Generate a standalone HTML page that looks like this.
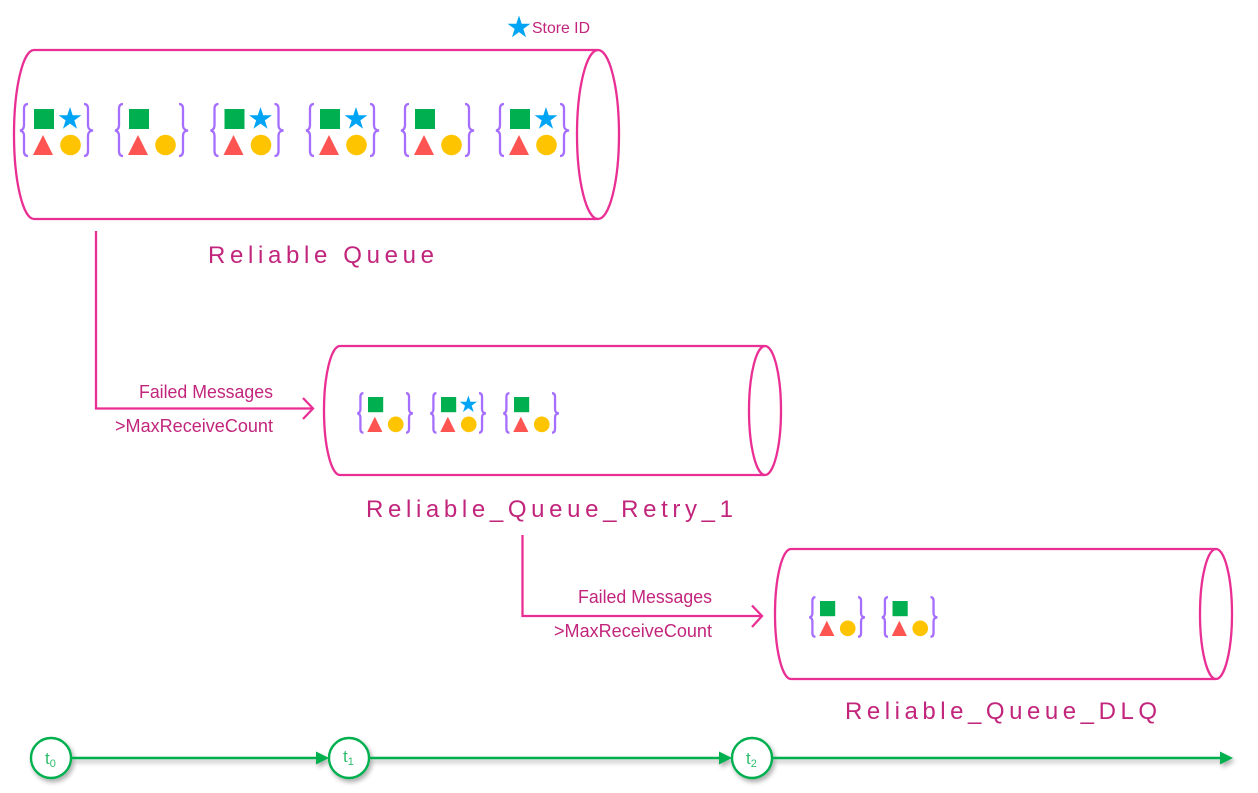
<!DOCTYPE html>
<html>
<head>
<meta charset="utf-8">
<style>
html,body{margin:0;padding:0;background:#fff;width:1258px;height:793px;overflow:hidden}
svg{display:block}
text{font-family:"Liberation Sans",sans-serif;fill:#c2257c}
.pk{fill:none;stroke:#ea2f94;stroke-width:2.3}
.br{fill:none;stroke:#a56eff;stroke-width:2.3;vector-effect:non-scaling-stroke}
.t{font-size:17px}
</style>
</head>
<body>
<svg width="1258" height="793" viewBox="0 0 1258 793" xmlns="http://www.w3.org/2000/svg">
<defs>
  <path id="star" fill="#00a4f5" d="M0,-12 L2.7,-3.72 L11.41,-3.71 L4.37,1.42 L7.05,9.71 L0,4.6 L-7.05,9.71 L-4.37,1.42 L-11.41,-3.71 L-2.7,-3.72 Z"/>
  <g id="base">
    <path class="br" d="M-6,-5 C-9,-5 -10,-3 -10,0 L-10,16 C-10,19 -11,21 -14,21.5 C-11,22 -10,24 -10,27 L-10,42 C-10,45 -9,47 -6,47"/>
    <path class="br" d="M50,-5 C53,-5 54,-3 54,0 L54,16 C54,19 55,21 59,21.5 C55,22 54,24 54,27 L54,42 C54,45 53,47 50,47"/>
    <rect x="0" y="0" width="20" height="20" fill="#00b050"/>
    <polygon points="-1,46 19,46 9,26" fill="#ff5552"/>
    <circle cx="36.5" cy="36" r="10.3" fill="#ffc400"/>
  </g>
  <g id="full">
    <use href="#base"/>
    <use href="#star" x="36" y="10"/>
  </g>
  <filter id="sh" x="-5%" y="-100%" width="110%" height="300%">
    <feDropShadow dx="2" dy="3" stdDeviation="2.5" flood-color="#000" flood-opacity="0.32"/>
  </filter>
</defs>

<!-- Cylinder 1 -->
<path class="pk" d="M598,50 L34,50 A20,84.5 0 0 0 34,219 L598,219"/>
<ellipse class="pk" cx="598" cy="134.5" rx="21" ry="84.5"/>
<use href="#full" x="34" y="109"/>
<use href="#base" x="129" y="109"/>
<use href="#full" x="224.5" y="109"/>
<use href="#full" x="320" y="109"/>
<use href="#base" x="415" y="109"/>
<use href="#full" x="510" y="109"/>

<use href="#star" x="519" y="27.5"/>
<text x="532" y="33" font-size="16" textLength="58" lengthAdjust="spacingAndGlyphs">Store ID</text>
<text x="208" y="263" font-size="24" textLength="226" lengthAdjust="spacing">Reliable Queue</text>

<!-- Connector 1 -->
<path class="pk" d="M96,231 L96,408.5 L312,408.5"/>
<path class="pk" d="M303,398 L313,408.5 L303,419"/>
<text x="139" y="398" font-size="18" textLength="134" lengthAdjust="spacingAndGlyphs">Failed Messages</text>
<text x="115" y="432" font-size="18" textLength="158" lengthAdjust="spacingAndGlyphs">&gt;MaxReceiveCount</text>

<!-- Cylinder 2 -->
<path class="pk" d="M765,346 L340,346 A16,64.5 0 0 0 340,475 L765,475"/>
<ellipse class="pk" cx="765" cy="410.5" rx="16" ry="64.5"/>
<g transform="translate(368,397) scale(.76)"><use href="#base"/></g>
<g transform="translate(441,397) scale(.76)"><use href="#full"/></g>
<g transform="translate(514,397) scale(.76)"><use href="#base"/></g>
<text x="366" y="517" font-size="24" textLength="367" lengthAdjust="spacing">Reliable_Queue_Retry_1</text>

<!-- Connector 2 -->
<path class="pk" d="M522.5,535 L522.5,616 L761,616"/>
<path class="pk" d="M752,605.5 L762,616 L752,627"/>
<text x="578" y="603" font-size="18" textLength="134" lengthAdjust="spacingAndGlyphs">Failed Messages</text>
<text x="554" y="637" font-size="18" textLength="158" lengthAdjust="spacingAndGlyphs">&gt;MaxReceiveCount</text>

<!-- Cylinder 3 -->
<path class="pk" d="M1216,549 L791,549 A16,65 0 0 0 791,679 L1216,679"/>
<ellipse class="pk" cx="1216" cy="614" rx="16" ry="65"/>
<g transform="translate(820,601) scale(.76)"><use href="#base"/></g>
<g transform="translate(892.5,601) scale(.76)"><use href="#base"/></g>
<text x="845" y="719" font-size="24" textLength="312" lengthAdjust="spacing">Reliable_Queue_DLQ</text>

<!-- Timeline -->
<g filter="url(#sh)">
  <path d="M71,758 L318,758 M369,758 L721,758 M772,758 L1222,758" stroke="#00b050" stroke-width="2.4" fill="none"/>
  <polygon points="316,751.5 329,758 316,764.5" fill="#00b050"/>
  <polygon points="719,751.5 732,758 719,764.5" fill="#00b050"/>
  <polygon points="1220,751.5 1233,758 1220,764.5" fill="#00b050"/>
  <circle cx="51" cy="758" r="20" fill="#fff" stroke="#00b050" stroke-width="2.4"/>
  <circle cx="349" cy="758" r="20" fill="#fff" stroke="#00b050" stroke-width="2.4"/>
  <circle cx="752" cy="758" r="20" fill="#fff" stroke="#00b050" stroke-width="2.4"/>
</g>
<text class="t" x="45" y="764" style="fill:#2fbd6c">t<tspan font-size="11" dy="3">0</tspan></text>
<text class="t" x="343" y="762" style="fill:#2fbd6c">t<tspan font-size="11" dy="3">1</tspan></text>
<text class="t" x="746" y="764" style="fill:#2fbd6c">t<tspan font-size="11" dy="3">2</tspan></text>
</svg>
</body>
</html>
